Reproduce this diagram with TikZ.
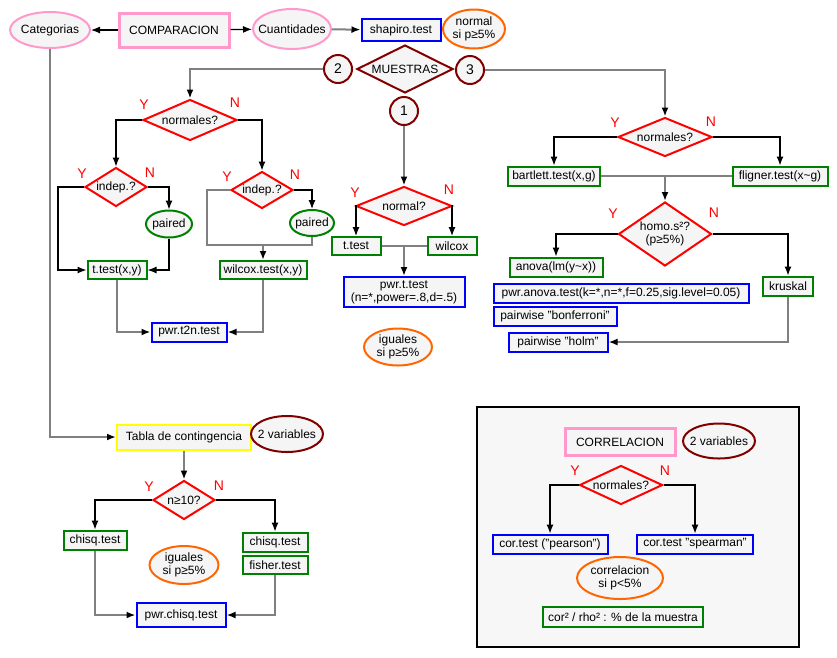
\documentclass[tikz,border=0pt]{standalone}
\usepackage{fontspec}
\setmainfont{Liberation Sans}
\usetikzlibrary{shapes.geometric,arrows.meta}

\definecolor{rosa}{HTML}{FF99CC}
\definecolor{azul}{HTML}{0000FF}
\definecolor{verde}{HTML}{008000}
\definecolor{rojo}{HTML}{FF0000}
\definecolor{granate}{HTML}{800000}
\definecolor{naranja}{HTML}{FF6600}
\definecolor{amarillo}{HTML}{FFFF00}
\definecolor{gris}{HTML}{808080}

\tikzset{
    texto/.style={font=\fontsize{12}{13}\selectfont},
    caja/.style={texto, rectangle, draw, line width=2pt, fill=black!4, inner sep=1pt},
    elip/.style={texto, ellipse, draw, line width=2pt, fill=black!4, inner xsep=-8pt, inner ysep=-2pt, align=center},
    rombo/.style={texto, diamond, draw=rojo, line width=2pt, fill=black!4, inner sep=0pt, align=center},
    circ/.style={circle, draw=granate, line width=2pt, fill=black!4, minimum size=28, inner sep=0pt, font=\fontsize{14}{16}\selectfont},
    yn/.style={text=rojo, inner sep=0pt, font=\fontsize{14}{16}\selectfont},
    flecha/.style={-{Latex[length=9pt,width=7pt,color=black]}},
    gris/.style={draw=gris, line width=2pt},
    rama/.style={draw=black, line width=1.2pt}
}

\begin{document}
\begin{tikzpicture}[x=1pt,y=-1pt]
    \useasboundingbox (0,0) rectangle (837,657);
    \fill[white] (0,0) rectangle (837,657);
    % Recuadro de la correlacion
    \draw[line width=2pt, fill=black!3] (477,407) rectangle (799,647);

    % Fila superior
    \node[elip, draw=rosa, minimum width=80, minimum height=36] (cat) at (50,30) {Categorias};
    \node[caja, draw=rosa, line width=3pt, minimum width=110, minimum height=34] (comp) at (174,30) {COMPARACION};
    \node[elip, draw=rosa, minimum width=78, minimum height=40] (cuant) at (292,29) {Cuantidades};
    \node[caja, draw=azul, minimum width=79, minimum height=22] (shap) at (401,30) {shapiro.test};
    \node[elip, draw=naranja, minimum width=62, minimum height=39] (norm) at (474,29) {normal\\si p≥5\%};

    % Numero de muestras
    \node[rombo, draw=granate, aspect=2, minimum width=96, minimum height=48] (mue) at (405,69) {MUESTRAS};
    \node[circ] (c2) at (338,69) {2};
    \node[circ] (c3) at (470,70) {3};
    \node[circ] (c1) at (404,111) {1};

    % Dos muestras
    \node[rombo, aspect=2.3, minimum width=94, minimum height=41] (n2) at (190,120) {normales?};
    \node[rombo, aspect=1.6, minimum width=62, minimum height=39] (ind2) at (116,187) {indep.?};
    \node[rombo, aspect=1.7, minimum width=62, minimum height=37] (ind3) at (262,190) {indep.?};
    \node[elip, draw=verde, minimum width=46, minimum height=27] (par2) at (169,224) {paired};
    \node[elip, draw=verde, minimum width=44, minimum height=26] (par3) at (312,223) {paired};
    \node[caja, draw=verde, minimum width=59, minimum height=18] (tt2) at (117,270) {t.test(x,y)};
    \node[caja, draw=verde, minimum width=87, minimum height=18] (wil2) at (263,270) {wilcox.test(x,y)};
    \node[caja, draw=azul, minimum width=75, minimum height=19] (t2n) at (189,332) {pwr.t2n.test};

    % Una muestra
    \node[rombo, aspect=2.46, minimum width=96, minimum height=39] (n1) at (404,206) {normal?};
    \node[caja, draw=verde, minimum width=49, minimum height=18] (tt1) at (356,246) {t.test};
    \node[caja, draw=verde, minimum width=49, minimum height=18] (wil1) at (452,246) {wilcox};
    \node[caja, draw=azul, minimum width=121, minimum height=30, align=center] (pwrt) at (404,292) {pwr.t.test\\(n=*,power=.8,d=.5)};
    \node[elip, draw=naranja, minimum width=68, minimum height=37] (ig1) at (398,347) {iguales\\si p≥5\%};

    % Tres muestras
    \node[rombo, aspect=2.4, minimum width=94, minimum height=39] (n3) at (665,137) {normales?};
    \node[caja, draw=verde, minimum width=92, minimum height=19] (bart) at (554,176) {bartlett.test(x,g)};
    \node[caja, draw=verde, minimum width=95, minimum height=19] (flig) at (780,176) {fligner.test(x\textasciitilde g)};
    \node[rombo, aspect=1.45, minimum width=93, minimum height=64] (homo) at (665,234) {homo.s²?\\(p≥5\%)};
    \node[caja, draw=verde, minimum width=93, minimum height=19] (anova) at (556,267) {anova(lm(y\textasciitilde x))};
    \node[caja, draw=azul, minimum width=255, minimum height=19] (panova) at (621,293) {pwr.anova.test(k=*,n=*,f=0.25,sig.level=0.05)};
    \node[caja, draw=azul, minimum width=123, minimum height=19] (bonf) at (555,316) {pairwise "bonferroni"};
    \node[caja, draw=azul, minimum width=99, minimum height=19] (holm) at (558,342) {pairwise "holm"};
    \node[caja, draw=verde, minimum width=50, minimum height=19] (krus) at (788,286) {kruskal};

    % Categorias
    \node[caja, draw=amarillo, minimum width=134, minimum height=25] (tabla) at (184,437) {Tabla de contingencia};
    \node[elip, draw=granate, minimum width=72, minimum height=36] (var1) at (287,434) {2 variables};
    \node[rombo, aspect=1.6, minimum width=62, minimum height=39] (n10) at (184,500) {n≥10?};
    \node[caja, draw=verde, minimum width=63, minimum height=19] (chi1) at (95,540) {chisq.test};
    \node[caja, draw=verde, minimum width=65, minimum height=19] (chi2) at (275,542) {chisq.test};
    \node[caja, draw=verde, minimum width=65, minimum height=18] (fish) at (275,565) {fisher.test};
    \node[elip, draw=naranja, minimum width=69, minimum height=38] (ig2) at (184,565) {iguales\\si p≥5\%};
    \node[caja, draw=azul, minimum width=89, minimum height=24] (pchi) at (181,615) {pwr.chisq.test};

    % Correlacion
    \node[caja, draw=rosa, line width=3pt, minimum width=110, minimum height=27] (corr) at (620,442) {CORRELACION};
    \node[elip, draw=granate, minimum width=72, minimum height=35] (var2) at (719,441) {2 variables};
    \node[rombo, aspect=2.1, minimum width=83, minimum height=39] (n4) at (621,485) {normales?};
    \node[caja, draw=azul, minimum width=115, minimum height=19] (pear) at (550,544) {cor.test ("pearson")};
    \node[caja, draw=azul, minimum width=116, minimum height=19] (spear) at (695,544) {cor.test "spearman"};
    \node[elip, draw=naranja, minimum width=86, minimum height=42] (ig3) at (620,578) {correlacion\\si p<5\%};
    \node[caja, draw=verde, minimum width=160, minimum height=20] (det) at (623,617) {cor² / rho² : \% de la muestra};

    % Etiquetas Y / N
    \node[yn] (n2y) at (144,105) {Y};   \node[yn] (n2n) at (235,103) {N};
    \node[yn] (i2y) at (82,174) {Y};    \node[yn] (i2n) at (150,173) {N};
    \node[yn] (i3y) at (227,177) {Y};   \node[yn] (i3n) at (295,175) {N};
    \node[yn] (n1y) at (355,193) {Y};   \node[yn] (n1n) at (449,190) {N};
    \node[yn] (n3y) at (615,123) {Y};   \node[yn] (n3n) at (711,122) {N};
    \node[yn] (hoy) at (613,214) {Y};   \node[yn] (hon) at (714,213) {N};
    \node[yn] (n10y) at (149,487) {Y};  \node[yn] (n10n) at (219,486) {N};
    \node[yn] (n4y) at (575,471) {Y};   \node[yn] (n4n) at (665,471) {N};

    % Conectores de la fila superior
    \draw[rama, flecha] (comp) -- (cat);
    \draw[rama, flecha] (comp) -- (cuant);
    \draw[gris, flecha] (cuant) -- (shap);
    \draw[gris, flecha] (c2) -| (n2);
    \draw[gris, flecha] (c3) -| (n3);
    \draw[gris, flecha] (c1) -- (n1);

    % Conectores de dos muestras
    \draw[rama, flecha] (n2) -| (ind2);
    \draw[rama, flecha] (n2) -| (ind3);
    \draw[rama, flecha] (ind2.west) -- ++(-26,0) |- (tt2);
    \draw[rama, flecha] (ind2) -| (par2);
    \draw[rama, flecha] (par2) |- (tt2);
    \coordinate (j3) at (263,245);
    \draw[gris] (ind3.west) -- ++(-23,0) |- (j3);
    \draw[gris] (par3) |- (j3);
    \draw[rama, flecha] (ind3) -| (par3);
    \draw[gris, flecha] (j3) -- (wil2);
    \draw[gris, flecha] (tt2) |- (t2n);
    \draw[gris, flecha] (wil2) |- (t2n);

    % Conectores de una muestra
    \draw[rama, flecha] (n1) -| (tt1);
    \draw[rama, flecha] (n1) -| (wil1);
    \draw[gris] (tt1) -- (wil1);
    \draw[gris, flecha] (tt1.east -| pwrt.north) -- (pwrt);

    % Conectores de tres muestras
    \draw[rama, flecha] (n3) -| (bart);
    \draw[rama, flecha] (n3) -| (flig);
    \draw[gris] (bart) -- (flig);
    \draw[gris, flecha] (bart.east -| homo.north) -- (homo);
    \draw[rama, flecha] (homo) -| (anova);
    \draw[rama, flecha] (homo) -| (krus);
    \draw[gris, flecha] (krus) |- (holm);

    % Conectores de categorias
    \draw[gris, flecha] (cat) |- (tabla);
    \draw[gris, flecha] (tabla) -- (n10);
    \draw[rama, flecha] (n10) -| (chi1);
    \draw[rama, flecha] (n10) -| (chi2);
    \draw[gris, flecha] (chi1) |- (pchi);
    \draw[gris, flecha] (fish) |- (pchi);

    % Conectores de correlacion
    \draw[rama, flecha] (n4) -| (pear);
    \draw[rama, flecha] (n4) -| (spear);
\end{tikzpicture}
\end{document}
